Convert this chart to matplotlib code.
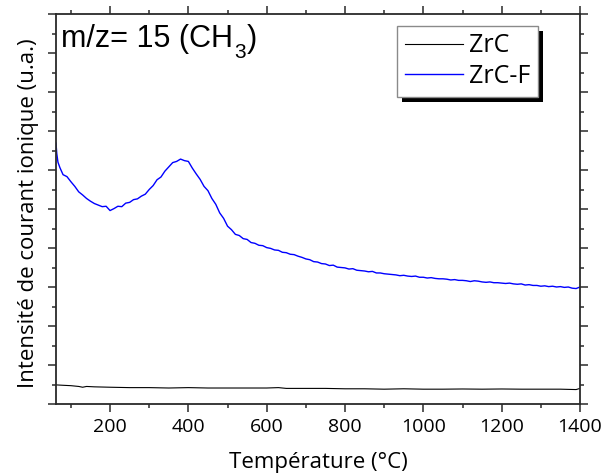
import matplotlib
matplotlib.use("Agg")
import matplotlib.pyplot as plt
from matplotlib.ticker import MultipleLocator, NullFormatter
from matplotlib.patches import Rectangle

# ---------------- data ----------------
temp_f = [62, 64, 67, 72,
          80, 90, 100, 110, 120, 130, 140, 150, 160, 170,
          180, 190, 200, 210, 220, 230, 240, 250, 260, 270,
          280, 290, 300, 310, 320, 330, 340, 350, 360, 370,
          380, 390, 400, 410, 420, 430, 440, 450, 460, 470,
          480, 490, 500, 510, 520, 530, 540, 550, 560, 570,
          580, 590, 600, 610, 620, 630, 640, 650, 660, 670,
          680, 690, 700, 710, 720, 730, 740, 750, 760, 770,
          780, 790, 800, 810, 820, 830, 840, 850, 860, 870,
          880, 890, 900, 910, 920, 930, 940, 950, 960, 970,
          980, 990, 1000, 1010, 1020, 1030, 1040, 1050, 1060, 1070,
          1080, 1090, 1100, 1110, 1120, 1130, 1140, 1150, 1160, 1170,
          1180, 1190, 1200, 1210, 1220, 1230, 1240, 1250, 1260, 1270,
          1280, 1290, 1300, 1310, 1320, 1330, 1340, 1350, 1360, 1370,
          1380, 1390, 1400]
zrc_f = [6.69, 6.42, 6.20, 6.06,
         5.88, 5.83, 5.70, 5.58, 5.44, 5.36, 5.27, 5.20, 5.14, 5.10,
         5.06, 5.07, 4.96, 5.01, 5.07, 5.06, 5.15, 5.17, 5.24, 5.26,
         5.33, 5.38, 5.50, 5.60, 5.75, 5.82, 5.97, 6.08, 6.19, 6.22,
         6.28, 6.24, 6.22, 6.05, 5.90, 5.76, 5.58, 5.47, 5.27, 5.12,
         4.90, 4.76, 4.56, 4.47, 4.35, 4.32, 4.24, 4.22, 4.14, 4.12,
         4.07, 4.06, 4.01, 3.99, 3.95, 3.94, 3.89, 3.88, 3.84, 3.83,
         3.79, 3.76, 3.72, 3.70, 3.65, 3.64, 3.60, 3.59, 3.55, 3.56,
         3.51, 3.50, 3.49, 3.46, 3.47, 3.43, 3.42, 3.41, 3.39, 3.40,
         3.36, 3.36, 3.34, 3.33, 3.32, 3.31, 3.29, 3.30, 3.28, 3.27,
         3.28, 3.25, 3.25, 3.23, 3.24, 3.22, 3.21, 3.21, 3.20, 3.18,
         3.19, 3.17, 3.17, 3.16, 3.14, 3.16, 3.15, 3.13, 3.12, 3.13,
         3.11, 3.11, 3.10, 3.09, 3.10, 3.08, 3.07, 3.08, 3.05, 3.06,
         3.04, 3.04, 3.02, 3.03, 3.01, 3.02, 3.00, 3.01, 2.99, 3.00,
         2.97, 2.96, 3.00]

temp_c = [62, 80, 100, 120, 130, 140, 160, 200, 250, 300, 350, 400,
          450, 500, 550, 600, 630, 650, 700, 750, 800, 850, 900, 950,
          1000, 1050, 1100, 1150, 1200, 1250, 1300, 1350, 1390, 1400]
zrc = [0.49, 0.48, 0.47, 0.45, 0.43, 0.45, 0.44, 0.43, 0.42, 0.42, 0.41, 0.42,
       0.41, 0.41, 0.41, 0.41, 0.42, 0.40, 0.40, 0.40, 0.39, 0.39, 0.38, 0.39,
       0.38, 0.38, 0.385, 0.38, 0.385, 0.38, 0.38, 0.38, 0.37, 0.40]

series_labels = ["ZrC", "ZrC-F"]
x_ticks = [200, 400, 600, 800, 1000, 1200, 1400]

# ---------------- figure ----------------
fig = plt.figure(figsize=(6.01, 4.75), dpi=100)
ax = fig.add_axes([56/601, 71/475, 524/601, 390/475])

ax.plot(temp_c, zrc, color="black", lw=0.8, label=series_labels[0])
ax.plot(temp_f, zrc_f, color="#0000ff", lw=1.0, label=series_labels[1])

ax.set_xlim(62, 1400)
ax.set_ylim(0, 10)

spine_c = "#2a2a2a"
for s in ax.spines.values():
    s.set_color(spine_c)
    s.set_linewidth(1.3)

ax.set_xticks(x_ticks)
ax.xaxis.set_minor_locator(MultipleLocator(100))
ax.yaxis.set_major_locator(MultipleLocator(1))
ax.yaxis.set_minor_locator(MultipleLocator(0.5))
ax.yaxis.set_major_formatter(NullFormatter())
ax.tick_params(which="both", direction="out", color=spine_c, width=1.1,
               top=True, right=True, labeltop=False, labelright=False)
ax.tick_params(which="major", length=5.8)
ax.tick_params(which="minor", length=3.0)
ax.tick_params(axis="x", which="major", pad=4.5, labelsize=14)
for lab in ax.get_xticklabels():
    lab.set_family("Open Sans")

ax.set_xlabel("Température (°C)", fontsize=16, family="Open Sans")
ax.xaxis.set_label_coords(0.5, -0.124)
ax.set_ylabel("Intensité de courant ionique (u.a.)", fontsize=16,
              family="Open Sans")
ax.yaxis.set_label_coords(-0.033, 0.49)

# annotation "m/z= 15 (CH3)" with a low subscript (pixel layout via inches)
title_kw = dict(family="Liberation Sans", color="black")
base_px = 475 - 47
t1 = ax.text(61 / fig.dpi, base_px / fig.dpi, "m/z= 15 (CH",
             transform=fig.dpi_scale_trans, ha="left", va="baseline",
             fontsize=22, **title_kw)
fig.canvas.draw()
r = fig.canvas.get_renderer()
e1 = t1.get_window_extent(r)
t2 = ax.text((e1.x1 + 1) / fig.dpi, (base_px - 11) / fig.dpi, "3",
             transform=fig.dpi_scale_trans, ha="left", va="baseline",
             fontsize=15, **title_kw)
fig.canvas.draw()
e2 = t2.get_window_extent(r)
t3 = ax.text((e2.x1 + 1) / fig.dpi, base_px / fig.dpi, ")",
             transform=fig.dpi_scale_trans, ha="left", va="baseline",
             fontsize=22, **title_kw)

leg = ax.legend(loc="upper left", bbox_to_anchor=((397-56)/524, (404-26)/390),
                frameon=True, fancybox=False, edgecolor="#8a8a8a",
                framealpha=1, prop={"family": "Open Sans", "size": 18},
                handlelength=2.35, handletextpad=0.22, borderpad=0.3,
                labelspacing=0.22, borderaxespad=0)
leg.get_frame().set_linewidth(1.0)
leg.set_zorder(10)

fig.canvas.draw()
bb = leg.get_window_extent().transformed(fig.transFigure.inverted())
off_x, off_y = 5/601, 5/475
shadow = Rectangle((bb.x0 + off_x, bb.y0 - off_y), bb.width, bb.height,
                   transform=fig.transFigure, facecolor="black",
                   edgecolor="none", zorder=9, clip_on=False)
ax.add_artist(shadow)

fig.savefig("out.png", dpi=100)
